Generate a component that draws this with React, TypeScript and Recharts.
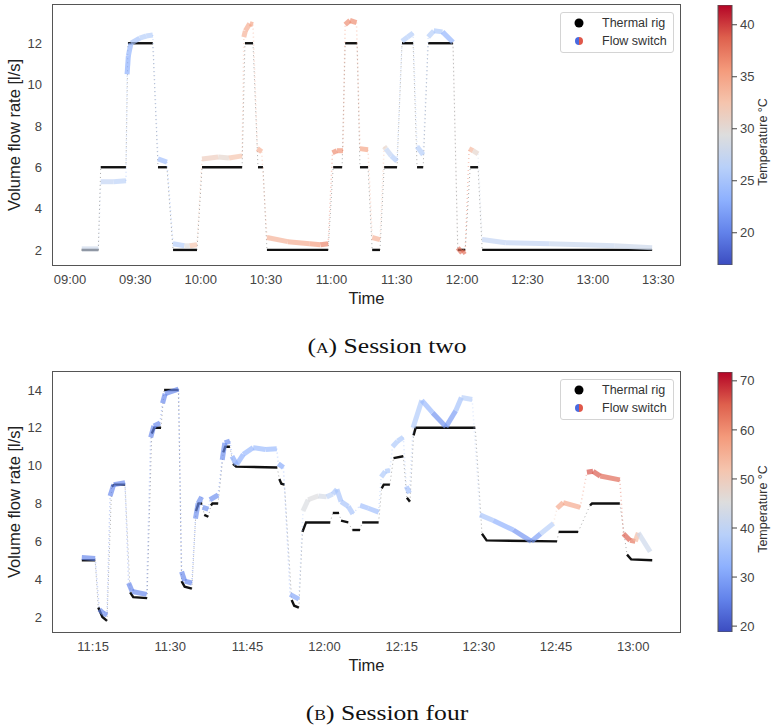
import { ComposedChart, Line, XAxis, YAxis, BarChart, Bar } from "recharts";

type Pt = [number, number];
type FPt = [number, number, number];

// time in minutes after midnight, flow in l/s, temperature in °C

// ---- session two ----
const rigTwo: Pt[][] = [
  [[545.4, 2], [553.0, 2]],
  [[554.1, 6], [565.7, 6]],
  [[566.6, 12], [578.0, 12]],
  [[580.4, 6], [584.5, 6]],
  [[587.3, 2], [598.3, 2]],
  [[600.6, 6], [619.0, 6]],
  [[620.3, 12], [624.0, 12]],
  [[626.3, 6], [628.6, 6]],
  [[630.4, 2], [658.5, 2]],
  [[660.8, 6], [664.9, 6]],
  [[666.3, 12], [671.8, 12]],
  [[673.1, 6], [676.8, 6]],
  [[678.7, 2], [682.3, 2]],
  [[684.2, 6], [690.1, 6]],
  [[692.4, 12], [697.5, 12]],
  [[699.3, 6], [702.1, 6]],
  [[704.4, 12], [715.8, 12]],
  [[718.0, 2], [721.4, 2]],
  [[723.7, 6], [727.3, 6]],
  [[729.2, 2], [807.2, 2]],
];

const flowTwo: FPt[][] = [
  [[545.4, 2.05, 28], [553.0, 2.05, 28]],
  [[554.1, 5.3, 27], [560.0, 5.3, 27], [565.7, 5.35, 26]],
  [[566.2, 10.5, 23], [566.8, 11.4, 23], [568.0, 12.0, 24], [572.0, 12.25, 26], [575.0, 12.35, 26], [578.0, 12.4, 26]],
  [[580.4, 6.4, 25], [584.5, 6.25, 24]],
  [[587.3, 2.3, 25], [592.5, 2.2, 27], [595.0, 2.2, 32], [598.3, 2.25, 33]],
  [[600.6, 6.4, 33], [608.0, 6.5, 30], [613.0, 6.45, 31], [619.0, 6.55, 34]],
  [[619.8, 12.3, 34], [620.5, 12.6, 34], [622.5, 12.95, 35], [624.0, 12.9, 35]],
  [[626.0, 6.9, 34], [628.0, 6.75, 34]],
  [[630.4, 2.6, 34], [640.0, 2.4, 34], [650.0, 2.3, 35], [655.0, 2.25, 36], [658.5, 2.3, 38]],
  [[660.5, 6.7, 37], [662.5, 6.8, 36], [665.3, 6.8, 36]],
  [[666.3, 12.9, 36], [668.5, 13.1, 37], [671.5, 13.0, 36]],
  [[673.1, 6.9, 35], [676.8, 6.85, 35]],
  [[678.7, 2.6, 34], [682.3, 2.5, 34]],
  [[684.2, 7.0, 33], [685.0, 6.9, 28], [687.5, 6.55, 26], [690.1, 6.3, 26]],
  [[692.4, 12.1, 26], [695.0, 12.3, 26], [697.5, 12.5, 26]],
  [[699.3, 7.0, 26], [702.1, 6.6, 26]],
  [[704.4, 12.3, 26], [707.0, 12.6, 26], [711.0, 12.55, 25], [715.8, 12.05, 22]],
  [[718.0, 2.1, 38], [720.0, 1.85, 38], [721.4, 1.95, 38]],
  [[723.2, 6.9, 35], [725.0, 6.8, 32], [727.3, 6.65, 29]],
  [[729.2, 2.5, 27], [740.0, 2.35, 27], [760.0, 2.3, 27], [790.0, 2.2, 28], [807.2, 2.1, 28]],
];

const timeTicksTwo = [540, 570, 600, 630, 660, 690, 720, 750, 780, 810];
const flowTicksTwo = [2, 4, 6, 8, 10, 12];
const tempTicksTwo = [20, 25, 30, 35, 40];
const timeDomainTwo: Pt = [532.2, 820];
const flowDomainTwo: Pt = [1.27, 13.85];
const tempRangeTwo: Pt = [16.9, 41.9];

// ---- session four ----
const rigFour: Pt[][] = [
  [[672.8, 5.0], [675.4, 5.0]],
  [[676.0, 2.5], [676.8, 2.0], [677.7, 1.8]],
  [[678.6, 8.9], [679.2, 9.0], [681.2, 9.0]],
  [[682.2, 3.3], [682.8, 3.05], [685.5, 3.0]],
  [[686.4, 11.7], [686.9, 12.0], [688.2, 12.0]],
  [[688.8, 14.0], [691.6, 14.0]],
  [[692.2, 3.9], [692.8, 3.6], [694.2, 3.5]],
  [[695.0, 7.6], [695.5, 8.0], [696.2, 8.0]],
  [[696.6, 7.4], [697.4, 7.3]],
  [[697.9, 7.9], [698.2, 8.0], [699.3, 8.0]],
  [[700.3, 10.7], [700.7, 11.0], [701.6, 11.0]],
  [[702.2, 10.1], [702.8, 9.95], [710.8, 9.9]],
  [[711.2, 9.3], [711.6, 9.05], [712.2, 9.0]],
  [[713.6, 2.9], [714.1, 2.6], [715.0, 2.5]],
  [[715.7, 6.5], [716.4, 7.0], [721.1, 7.0]],
  [[721.6, 7.5], [722.8, 7.5]],
  [[723.2, 7.1], [724.6, 7.0]],
  [[725.4, 6.6], [726.9, 6.6]],
  [[727.3, 7.0], [730.5, 7.0]],
  [[731.1, 8.8], [731.5, 9.0], [732.7, 9.0]],
  [[733.4, 10.4], [735.3, 10.5]],
  [[736.0, 8.3], [736.6, 8.1]],
  [[737.3, 11.6], [737.7, 12.0], [749.3, 12.0]],
  [[750.6, 6.4], [751.5, 6.05], [765.2, 6.0]],
  [[765.5, 6.5], [769.3, 6.5]],
  [[771.6, 7.9], [772.0, 8.0], [777.4, 8.0]],
  [[778.8, 5.3], [779.6, 5.05], [783.7, 5.0]],
];

const flowFour: FPt[][] = [
  [[672.8, 5.15, 26], [675.4, 5.1, 26]],
  [[676.2, 2.4, 26], [677.0, 2.2, 26], [677.7, 2.1, 26]],
  [[678.3, 8.4, 26], [679.0, 9.0, 26], [681.2, 9.1, 26]],
  [[681.9, 3.8, 26], [682.6, 3.35, 26], [685.4, 3.2, 26]],
  [[686.2, 11.5, 26], [686.8, 12.1, 26], [688.0, 12.25, 26]],
  [[688.5, 13.3, 26], [689.0, 13.8, 26], [691.6, 14.05, 26]],
  [[692.2, 4.4, 26], [692.8, 3.9, 26], [694.2, 3.8, 26]],
  [[694.9, 7.2, 27], [695.4, 8.0, 27], [696.1, 8.35, 27]],
  [[696.3, 7.8, 27], [697.4, 7.7, 27]],
  [[697.7, 8.2, 27], [699.3, 8.45, 27]],
  [[700.1, 10.3, 27], [700.6, 11.2, 27], [701.6, 11.3, 27]],
  [[702.0, 10.5, 31], [702.9, 10.05, 31], [704.2, 10.6, 33], [706.1, 10.95, 34], [708.5, 10.85, 34], [710.7, 10.9, 34]],
  [[711.0, 10.1, 31], [712.0, 9.9, 31]],
  [[713.3, 3.2, 30], [715.0, 2.95, 31]],
  [[715.8, 7.6, 44], [716.8, 8.2, 45], [718.8, 8.4, 45], [720.4, 8.35, 42], [721.6, 8.5, 37], [722.4, 8.75, 36], [723.2, 8.1, 36], [724.6, 7.85, 36], [725.5, 7.45, 36]],
  [[726.9, 7.9, 35], [728.5, 7.75, 35], [730.5, 7.55, 35]],
  [[731.0, 9.4, 37], [731.8, 9.7, 37], [732.7, 9.75, 37]],
  [[733.2, 11.0, 37], [734.2, 11.3, 37], [735.3, 11.5, 37]],
  [[735.9, 8.9, 35], [736.5, 8.55, 35]],
  [[737.2, 12.0, 38], [738.9, 13.45, 37], [741.0, 12.8, 30], [743.6, 12.05, 25], [745.5, 12.9, 33], [746.6, 13.6, 38], [748.7, 13.5, 39]],
  [[750.2, 7.4, 38], [752.8, 7.1, 34], [756.7, 6.6, 30], [760.2, 6.0, 26], [762.0, 6.4, 33], [764.5, 6.95, 44]],
  [[765.2, 7.75, 56], [766.4, 8.05, 57], [769.7, 7.8, 56]],
  [[771.0, 9.65, 66], [772.2, 9.7, 67], [773.6, 9.45, 65], [777.4, 9.25, 64]],
  [[778.1, 6.4, 65], [779.4, 6.05, 66], [780.4, 6.0, 60], [781.0, 6.45, 47], [783.3, 5.45, 37]],
];

const timeTicksFour = [675, 690, 705, 720, 735, 750, 765, 780];
const flowTicksFour = [2, 4, 6, 8, 10, 12, 14];
const tempTicksFour = [20, 30, 40, 50, 60, 70];
const timeDomainFour: Pt = [667.2, 789.1];
const flowDomainFour: Pt = [1.21, 14.95];
const tempRangeFour: Pt = [18.8, 71.8];

// matplotlib coolwarm anchors
const COOLWARM = [
  [59, 76, 192], [98, 130, 234], [141, 176, 254], [184, 208, 249], [221, 221, 221],
  [245, 196, 173], [244, 154, 123], [222, 96, 77], [180, 4, 38],
];

function coolwarm(f: number) {
  const x = Math.min(1, Math.max(0, f)) * (COOLWARM.length - 1);
  const i = Math.min(COOLWARM.length - 2, Math.floor(x));
  const k = x - i;
  const c = COOLWARM[i].map((v, j) => Math.round(v + (COOLWARM[i + 1][j] - v) * k));
  return `rgb(${c[0]},${c[1]},${c[2]})`;
}

const FONT = '"Liberation Sans", Arial, sans-serif';
const tickStyle = { fill: "#444", fontSize: 13, fontFamily: FONT };

const fmtTime = (m: number) => {
  const h = Math.floor(m / 60);
  const mm = Math.round(m - h * 60);
  return `${String(h).padStart(2, "0")}:${String(mm).padStart(2, "0")}`;
};

interface Piece {
  key: string;
  data: { t: number; v: number }[];
  color: string;
  solid: boolean;
}

function rigPieces(runs: Pt[][]): Piece[] {
  const out: Piece[] = [];
  runs.forEach((run, r) => {
    out.push({ key: `r${r}`, data: run.map(([t, v]) => ({ t, v })), color: "#111", solid: true });
    if (r < runs.length - 1) {
      const a = run[run.length - 1];
      const b = runs[r + 1][0];
      out.push({ key: `rg${r}`, data: [{ t: a[0], v: a[1] }, { t: b[0], v: b[1] }], color: "#555", solid: false });
    }
  });
  return out;
}

function flowPieces(runs: FPt[][], range: Pt): Piece[] {
  const norm = (T: number) => (T - range[0]) / (range[1] - range[0]);
  const out: Piece[] = [];
  runs.forEach((run, r) => {
    for (let i = 0; i < run.length - 1; i++) {
      const a = run[i];
      const b = run[i + 1];
      out.push({
        key: `f${r}-${i}`,
        data: [{ t: a[0], v: a[1] }, { t: b[0], v: b[1] }],
        color: coolwarm(norm((a[2] + b[2]) / 2)),
        solid: true,
      });
    }
    if (r < runs.length - 1) {
      const a = run[run.length - 1];
      const b = runs[r + 1][0];
      out.push({
        key: `fg${r}`,
        data: [{ t: a[0], v: a[1] }, { t: b[0], v: b[1] }],
        color: coolwarm(norm((a[2] + b[2]) / 2)),
        solid: false,
      });
    }
  });
  return out;
}

function LegendBox() {
  const row = (y: number, label: string, marker: React.ReactNode) => (
    <div style={{ position: "absolute", left: 0, top: y - 9, height: 18, width: "100%" }}>
      <svg width={30} height={18} style={{ position: "absolute", left: 3, top: 0 }}>
        {marker}
      </svg>
      <span style={{ position: "absolute", left: 41, top: 1, fontSize: 12.5, lineHeight: "16px", color: "#333" }}>{label}</span>
    </div>
  );
  return (
    <div
      style={{
        position: "absolute",
        left: 560,
        top: 12,
        width: 112,
        height: 39,
        border: "1px solid #d4d4d4",
        borderRadius: 3,
        background: "rgba(255,255,255,0.85)",
        fontFamily: FONT,
      }}
    >
      {row(10, "Thermal rig", <circle cx={15} cy={9} r={4.5} fill="#000" />)}
      {row(28, "Flow switch", (
        <g>
          <path d="M15 5 A4 4 0 0 0 15 13 Z" fill="#4a6be0" />
          <path d="M15 5 A4 4 0 0 1 15 13 Z" fill="#e0584a" />
        </g>
      ))}
    </div>
  );
}

interface PanelProps {
  top: number;
  rig: Pt[][];
  flow: FPt[][];
  timeDomain: Pt;
  timeTicks: number[];
  flowDomain: Pt;
  flowTicks: number[];
  tempRange: Pt;
  tempTicks: number[];
  gradId: string;
  tag: string;
  caption: string;
}

function Panel(p: PanelProps) {
  const rigs = rigPieces(p.rig);
  const flows = flowPieces(p.flow, p.tempRange);
  const cbData = [{ name: "T", span: p.tempRange }];
  return (
    <div style={{ position: "absolute", left: 0, top: p.top, width: 771, height: 360 }}>
      <div style={{ position: "absolute", left: 0, top: 0 }}>
        <ComposedChart width={690} height={310} margin={{ top: 5, right: 10, left: 0, bottom: 0 }}>
          <XAxis
            type="number"
            dataKey="t"
            domain={p.timeDomain}
            ticks={p.timeTicks}
            tickFormatter={fmtTime}
            allowDataOverflow
            height={45}
            tickLine={false}
            tickSize={6}
            tickMargin={4}
            axisLine={false}
            tick={tickStyle}
            label={{
              content: () => (
                <text x={366.5} y={304} textAnchor="middle" fontSize={16.5} fontFamily={FONT} fill="#222">
                  Time
                </text>
              ),
            }}
          />
          <YAxis
            type="number"
            domain={p.flowDomain}
            ticks={p.flowTicks}
            allowDataOverflow
            width={53}
            tickLine={false}
            tickSize={6}
            tickMargin={5}
            axisLine={false}
            tick={tickStyle}
            label={{
              content: () => (
                <text
                  transform="translate(20,135) rotate(-90)"
                  textAnchor="middle"
                  fontSize={16.5}
                  fontFamily={FONT}
                  fill="#222"
                >
                  Volume flow rate [l/s]
                </text>
              ),
            }}
          />
          {rigs.map((s) => (
            <Line
              key={s.key}
              data={s.data}
              dataKey="v"
              stroke={s.color}
              strokeWidth={s.solid ? 2.4 : 1}
              strokeOpacity={s.solid ? 1 : 0.5}
              strokeDasharray={s.solid ? undefined : "1 3"}
              dot={false}
              activeDot={false}
              isAnimationActive={false}
            />
          ))}
          {flows.map((s) => (
            <Line
              key={s.key}
              data={s.data}
              dataKey="v"
              stroke={s.color}
              strokeWidth={s.solid ? 5 : 1.5}
              strokeOpacity={s.solid ? 0.68 : 0.45}
              strokeDasharray={s.solid ? undefined : "1 3"}
              dot={false}
              activeDot={false}
              isAnimationActive={false}
            />
          ))}
        </ComposedChart>
      </div>
      {/* axes frame */}
      <div
        style={{
          position: "absolute",
          left: 52.25,
          top: 4.25,
          width: 628.5,
          height: 261.5,
          border: "1.5px solid #555",
          boxSizing: "border-box",
          pointerEvents: "none",
        }}
      />
      <LegendBox />
      <div style={{ position: "absolute", left: 700, top: 0 }}>
        <BarChart width={71} height={310} data={cbData} margin={{ top: 5, right: 0, left: 18, bottom: 45 }} barCategoryGap={0}>
          <defs>
            <linearGradient id={p.gradId} x1="0" y1="1" x2="0" y2="0">
              {COOLWARM.map((_, i) => (
                <stop key={i} offset={i / (COOLWARM.length - 1)} stopColor={coolwarm(i / (COOLWARM.length - 1))} />
              ))}
            </linearGradient>
          </defs>
          <XAxis dataKey="name" hide />
          <YAxis
            orientation="right"
            type="number"
            domain={p.tempRange}
            ticks={p.tempTicks}
            allowDataOverflow
            width={39}
            axisLine={false}
            tickSize={5}
            tickMargin={3}
            tickLine={{ stroke: "#444" }}
            tick={tickStyle}
            label={{
              content: () => (
                <text transform="translate(67,142) rotate(-90)" textAnchor="middle" fontSize={12.5} fontFamily={FONT} fill="#333">
                  Temperature °C
                </text>
              ),
            }}
          />
          <Bar dataKey="span" fill={`url(#${p.gradId})`} stroke="#555" strokeWidth={1} isAnimationActive={false} />
        </BarChart>
      </div>
      <svg width={771} height={30} style={{ position: "absolute", left: 0, top: 333 }}>
        <text
          transform="translate(387,20) scale(1.22,1)"
          textAnchor="middle"
          fontFamily='"Liberation Serif", "DejaVu Serif", serif'
          fontSize={21}
          fill="#111"
        >
          <tspan style={{ fontVariant: "small-caps" }}>({p.tag})</tspan> {p.caption}
        </text>
      </svg>
    </div>
  );
}

export default function App() {
  return (
    <div style={{ position: "absolute", left: 0, top: 0, width: 771, height: 727, overflow: "hidden", background: "#fff" }}>
      <Panel
        top={0}
        rig={rigTwo}
        flow={flowTwo}
        timeDomain={timeDomainTwo}
        timeTicks={timeTicksTwo}
        flowDomain={flowDomainTwo}
        flowTicks={flowTicksTwo}
        tempRange={tempRangeTwo}
        tempTicks={tempTicksTwo}
        gradId="cb-two"
        tag="a"
        caption="Session two"
      />
      <Panel
        top={367}
        rig={rigFour}
        flow={flowFour}
        timeDomain={timeDomainFour}
        timeTicks={timeTicksFour}
        flowDomain={flowDomainFour}
        flowTicks={flowTicksFour}
        tempRange={tempRangeFour}
        tempTicks={tempTicksFour}
        gradId="cb-four"
        tag="b"
        caption="Session four"
      />
    </div>
  );
}
